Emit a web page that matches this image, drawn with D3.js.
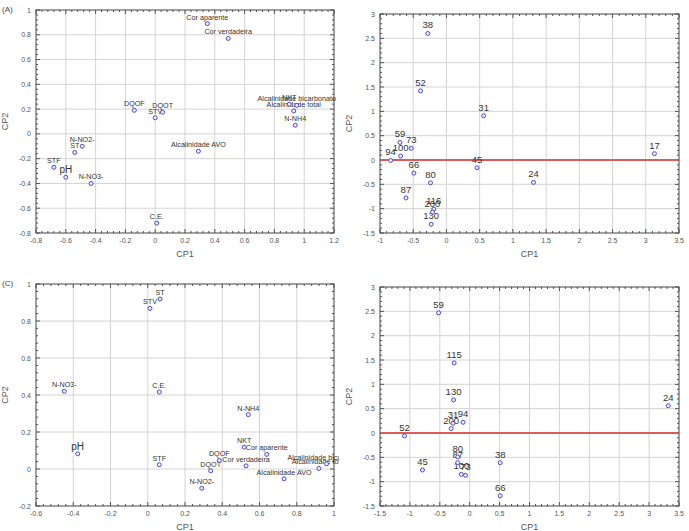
<!DOCTYPE html>
<html><head><meta charset="utf-8">
<script src="https://cdn.jsdelivr.net/npm/d3@7"></script>
<style>body{margin:0;background:#fff}svg{display:block}</style>
</head><body>
<svg id="c" width="689" height="531"></svg>
<script>
// ---------- DATA ----------
// Panel A (loadings)
const labelsA = ["Cor aparente","Cor verdadeira","DQOF","DQOT","STV","NKT","Alcalinidade bicarbonato","Alcalinidade total","N-NH4","N-NO2-","ST","STF","pH","N-NO3-","Alcalinidade AVO","C.E."];
const cp1A = [0.35,0.49,-0.14,0.05,0.0,0.90,0.95,0.93,0.94,-0.49,-0.54,-0.68,-0.60,-0.43,0.29,0.01];
const cp2A = [0.89,0.77,0.19,0.175,0.13,0.24,0.23,0.185,0.07,-0.10,-0.15,-0.27,-0.35,-0.40,-0.14,-0.72];
const ticksAx = [-0.8,-0.6,-0.4,-0.2,0,0.2,0.4,0.6,0.8,1,1.2];
const ticksAy = [-0.8,-0.6,-0.4,-0.2,0,0.2,0.4,0.6,0.8,1];

// Panel B (scores)
const idsB = ["38","52","31","59","73","100","94","17","45","24","66","80","87","116","200","130"];
const cp1B = [-0.28,-0.39,0.56,-0.70,-0.53,-0.69,-0.84,3.13,0.46,1.31,-0.49,-0.24,-0.61,-0.19,-0.21,-0.23];
const cp2B = [2.60,1.42,0.91,0.36,0.24,0.08,-0.01,0.13,-0.16,-0.46,-0.27,-0.47,-0.78,-1.01,-1.07,-1.32];
const ticksBx = [-1,-0.5,0,0.5,1,1.5,2,2.5,3,3.5];
const ticksBy = [-1.5,-1,-0.5,0,0.5,1,1.5,2,2.5,3];

// Panel C (loadings)
const labelsC = ["ST","STV","N-NO3-","C.E.","N-NH4","pH","STF","NKT","Cor aparente","DQOF","Cor verdadeira","DQOT","N-NO2-","Alcalinidade AVO","Alcalinidade total","Alcalinidade bicarbonato"];
const cp1C = [0.066,0.012,-0.448,0.062,0.540,-0.376,0.062,0.518,0.639,0.384,0.528,0.338,0.29,0.732,0.919,0.96];
const cp2C = [0.919,0.868,0.42,0.416,0.294,0.082,0.023,0.118,0.079,0.046,0.017,-0.01,-0.104,-0.053,0.003,0.028];
const ticksCx = [-0.6,-0.4,-0.2,0,0.2,0.4,0.6,0.8,1];
const ticksCy = [-0.2,0,0.2,0.4,0.6,0.8,1];

// Panel D (scores)
const idsD = ["59","115","130","24","31","94","200","52","38","45","80","87","100","73","66"];
const cp1D = [-0.52,-0.26,-0.27,3.32,-0.28,-0.11,-0.31,-1.09,0.51,-0.79,-0.20,-0.20,-0.14,-0.07,0.51];
const cp2D = [2.47,1.44,0.68,0.56,0.20,0.22,0.09,-0.06,-0.61,-0.76,-0.49,-0.61,-0.85,-0.87,-1.29];
const ticksDx = [-1.5,-1,-0.5,0,0.5,1,1.5,2,2.5,3,3.5];
const ticksDy = [-1.5,-1,-0.5,0,0.5,1,1.5,2,2.5,3];

// ---------- DRAW ----------
const svg = d3.select("#c");
const FONT = "'Liberation Sans', Arial, sans-serif";
const fmt = v => String(+v.toFixed(2));

svg.append("defs").append("clipPath").attr("id","clipL")
  .append("rect").attr("x",0).attr("y",0).attr("width",339).attr("height",531);

function panel(o){
  const g = svg.append("g");
  const x = d3.scaleLinear().domain([o.xt[0], o.xt[o.xt.length-1]]).range([o.x0,o.x1]);
  const y = d3.scaleLinear().domain([o.yt[0], o.yt[o.yt.length-1]]).range([o.y1,o.y0]);
  // grid
  g.selectAll(".gx").data(o.xt.slice(1,-1)).join("line")
    .attr("x1",d=>x(d)).attr("x2",d=>x(d)).attr("y1",o.y0).attr("y2",o.y1)
    .attr("stroke","#d4d4d4").attr("stroke-width",1);
  g.selectAll(".gy").data(o.yt.slice(1,-1)).join("line")
    .attr("y1",d=>y(d)).attr("y2",d=>y(d)).attr("x1",o.x0).attr("x2",o.x1)
    .attr("stroke","#d4d4d4").attr("stroke-width",1);
  // minor ticks
  const minor = (t)=>{const r=[];for(let i=0;i<t.length-1;i++){for(let k=1;k<5;k++)r.push(t[i]+(t[i+1]-t[i])*k/5);}return r;};
  const mx = minor(o.xt), my = minor(o.yt);
  [o.y0,o.y1].forEach((yy,j)=>{
    g.selectAll(null).data(mx).join("line").attr("x1",d=>x(d)).attr("x2",d=>x(d))
      .attr("y1",yy).attr("y2",yy+(j?-2:2)).attr("stroke","#555");
    g.selectAll(null).data(o.xt).join("line").attr("x1",d=>x(d)).attr("x2",d=>x(d))
      .attr("y1",yy).attr("y2",yy+(j?-4:4)).attr("stroke","#555");
  });
  [o.x0,o.x1].forEach((xx,j)=>{
    g.selectAll(null).data(my).join("line").attr("y1",d=>y(d)).attr("y2",d=>y(d))
      .attr("x1",xx).attr("x2",xx+(j?-2:2)).attr("stroke","#555");
    g.selectAll(null).data(o.yt).join("line").attr("y1",d=>y(d)).attr("y2",d=>y(d))
      .attr("x1",xx).attr("x2",xx+(j?-4:4)).attr("stroke","#555");
  });
  // zero line
  if(o.zero){
    g.append("line").attr("x1",o.x0).attr("x2",o.x1).attr("y1",y(0)).attr("y2",y(0))
      .attr("stroke","#e05a5a").attr("stroke-width",2);
  }
  // frame
  g.append("rect").attr("x",o.x0).attr("y",o.y0).attr("width",o.x1-o.x0).attr("height",o.y1-o.y0)
    .attr("fill","none").attr("stroke","#444").attr("stroke-width",1);
  // tick labels
  g.selectAll(null).data(o.xt).join("text").attr("x",d=>x(d)).attr("y",o.y1+10)
    .attr("text-anchor","middle").attr("font-family",FONT).attr("font-size",7).attr("fill","#555").text(fmt);
  g.selectAll(null).data(o.yt).join("text").attr("x",o.x0-5).attr("y",d=>y(d)+2.5)
    .attr("text-anchor","end").attr("font-family",FONT).attr("font-size",7).attr("fill","#555").text(fmt);
  // axis titles
  g.append("text").attr("x",(o.x0+o.x1)/2).attr("y",o.y1+24).attr("text-anchor","middle")
    .attr("font-family",FONT).attr("font-size",9).attr("fill","#555").text("CP1");
  g.append("text").attr("transform",`translate(${o.x0-28},${(o.y0+o.y1)/2}) rotate(-90)`)
    .attr("text-anchor","middle").attr("font-family",FONT).attr("font-size",9).attr("fill","#555").text("CP2");
  if(o.tag){
    g.append("text").attr("x",2).attr("y",o.y0+2).attr("font-family",FONT).attr("font-size",8)
      .attr("fill","#444").text(o.tag);
  }
  // points
  const pts = o.labels.map((l,i)=>({l, a:o.cx[i], b:o.cy[i]}));
  const lg = g.append("g");
  if(o.clip) lg.attr("clip-path","url(#clipL)");
  lg.selectAll(null).data(pts).join("text")
    .attr("x",d=>x(d.a)).attr("y",d=>y(d.b)-(o.score?5:4))
    .attr("text-anchor","middle").attr("font-family",FONT)
    .attr("font-size",d=>o.score?9.5:(d.l==="pH"?10:7.2))
    .attr("fill","#333").text(d=>d.l);
  g.selectAll(null).data(pts).join("circle")
    .attr("cx",d=>x(d.a)).attr("cy",d=>y(d.b)).attr("r",2)
    .attr("fill","#eef").attr("stroke","#4b4bd0").attr("stroke-width",1);
}

panel({x0:36,x1:334,y0:10,y1:233,xt:ticksAx,yt:ticksAy,labels:labelsA,cx:cp1A,cy:cp2A,tag:"(A)",clip:true});
panel({x0:380,x1:679,y0:14,y1:233,xt:ticksBx,yt:ticksBy,labels:idsB,cx:cp1B,cy:cp2B,zero:true,score:true});
panel({x0:36,x1:334,y0:284,y1:506,xt:ticksCx,yt:ticksCy,labels:labelsC,cx:cp1C,cy:cp2C,tag:"(C)",clip:true});
panel({x0:380,x1:679,y0:287,y1:506,xt:ticksDx,yt:ticksDy,labels:idsD,cx:cp1D,cy:cp2D,zero:true,score:true});
</script>
</body></html>
